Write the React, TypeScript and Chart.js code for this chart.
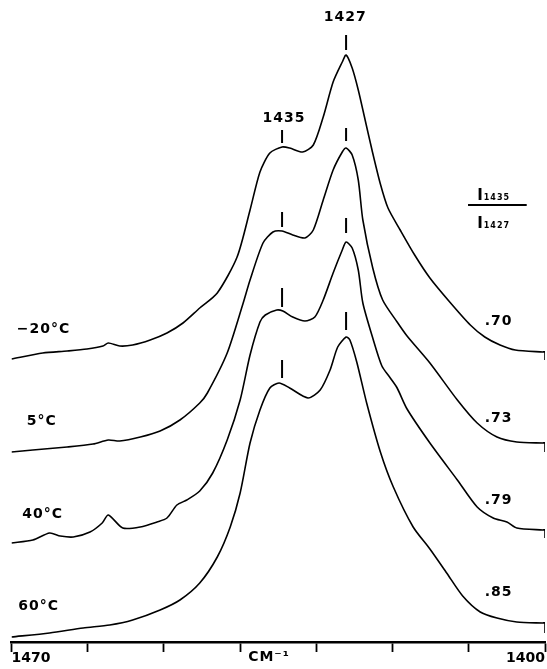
import React, { useEffect, useRef } from "react";
import { Chart, registerables } from "chart.js";

Chart.register(...registerables);

// ---- Data (wavenumber in cm-1, offset absorbance in arbitrary units) ----
const wnMinus20 = [1470.0, 1465.9, 1462.7, 1460.1, 1458.0, 1457.3, 1455.8, 1454.1, 1451.8, 1449.6, 1447.5, 1445.3, 1443.0, 1440.4, 1438.7, 1437.4, 1436.1, 1434.5, 1433.5, 1431.8, 1430.4, 1429.1, 1427.8, 1426.6, 1426.1, 1425.3, 1424.5, 1423.6, 1422.7, 1421.6, 1420.6, 1419.0, 1417.1, 1415.1, 1412.5, 1409.8, 1407.9, 1405.9, 1403.9, 1400.3, 1400.0, 1400.0];
const absMinus20 = [2.83, 2.89, 2.91, 2.93, 2.96, 2.99, 2.96, 2.97, 3.02, 3.09, 3.19, 3.34, 3.49, 3.85, 4.32, 4.70, 4.89, 4.95, 4.94, 4.90, 4.97, 5.25, 5.60, 5.80, 5.87, 5.74, 5.52, 5.22, 4.92, 4.58, 4.34, 4.12, 3.87, 3.64, 3.40, 3.17, 3.05, 2.97, 2.92, 2.90, 2.90, 2.82];

const wn5 = [1470.0, 1467.2, 1462.7, 1459.3, 1457.3, 1455.8, 1453.1, 1450.5, 1447.9, 1445.3, 1444.3, 1441.7, 1439.6, 1438.7, 1437.0, 1435.7, 1434.5, 1433.1, 1431.5, 1430.4, 1429.1, 1427.8, 1426.6, 1426.1, 1425.3, 1424.5, 1423.9, 1422.6, 1421.3, 1419.4, 1418.1, 1415.1, 1411.5, 1408.9, 1406.3, 1403.7, 1400.3, 1400.0, 1400.0];
const abs5 = [1.90, 1.92, 1.95, 1.98, 2.02, 2.01, 2.05, 2.11, 2.22, 2.39, 2.49, 2.89, 3.39, 3.62, 3.99, 4.10, 4.11, 4.07, 4.04, 4.12, 4.42, 4.72, 4.90, 4.94, 4.87, 4.62, 4.22, 3.74, 3.42, 3.20, 3.06, 2.79, 2.42, 2.19, 2.05, 2.00, 1.99, 1.99, 1.90];

const wn40 = [1470.0, 1467.2, 1465.0, 1463.6, 1461.9, 1459.7, 1458.1, 1457.3, 1455.4, 1453.1, 1450.9, 1449.6, 1448.3, 1447.0, 1445.3, 1443.6, 1441.7, 1440.0, 1438.7, 1437.4, 1436.7, 1435.2, 1434.4, 1433.1, 1431.5, 1430.2, 1429.1, 1427.8, 1426.6, 1426.1, 1425.3, 1424.5, 1423.9, 1422.6, 1421.4, 1420.3, 1419.4, 1418.1, 1415.1, 1411.5, 1408.9, 1406.8, 1405.0, 1403.7, 1400.3, 1400.0, 1400.0];
const abs40 = [0.99, 1.02, 1.09, 1.06, 1.05, 1.10, 1.19, 1.27, 1.14, 1.15, 1.20, 1.24, 1.37, 1.42, 1.51, 1.69, 2.02, 2.42, 2.87, 3.20, 3.27, 3.32, 3.31, 3.25, 3.21, 3.25, 3.42, 3.69, 3.92, 4.00, 3.94, 3.72, 3.39, 3.04, 2.76, 2.64, 2.54, 2.33, 1.99, 1.62, 1.35, 1.24, 1.20, 1.14, 1.12, 1.12, 1.04];

const wn60 = [1470.0, 1465.0, 1460.6, 1457.1, 1454.1, 1450.5, 1447.9, 1445.3, 1443.0, 1441.3, 1440.0, 1438.7, 1437.4, 1436.1, 1434.9, 1433.5, 1431.1, 1429.5, 1428.2, 1427.2, 1426.1, 1425.6, 1424.7, 1423.4, 1421.6, 1419.9, 1417.3, 1415.1, 1412.9, 1410.8, 1408.5, 1406.3, 1403.7, 1400.3, 1400.0, 1400.0];
const abs60 = [0.05, 0.09, 0.14, 0.17, 0.22, 0.32, 0.42, 0.59, 0.85, 1.15, 1.49, 1.99, 2.32, 2.54, 2.59, 2.54, 2.44, 2.52, 2.72, 2.95, 3.05, 3.02, 2.80, 2.39, 1.90, 1.55, 1.15, 0.93, 0.69, 0.46, 0.30, 0.24, 0.20, 0.19, 0.19, 0.09];

const temperatureLabels = ["\u221220\u00b0C", "5\u00b0C", "40\u00b0C", "60\u00b0C"];
const intensityRatios = [".70", ".73", ".79", ".85"];

// x-axis ticks
const xTickValues = [1470, 1460, 1450, 1440, 1430, 1420, 1410, 1400];
const xTickLabels = ["1470", "", "", "", "", "", "", "1400"];
const xUnitLabel = "CM\u207b\u00b9";

// band positions marked on each trace
const bandLabels = ["1435", "1427"];
const bandMarkerWn = [1434.5, 1426.1];
const marker1435Top = [5.12, 4.30, 3.54, 2.82];
const marker1435Bottom = [4.99, 4.15, 3.35, 2.64];
const marker1427Top = [6.07, 5.14, 4.24, 3.30];
const marker1427Bottom = [5.92, 5.01, 4.09, 3.12];

const ratioNumerator = "1435";
const ratioDenominator = "1427";

// ---- Annotation placement (data coordinates) ----
const tempLabelPos = [
  { x: 1469.3, y: 3.13 },
  { x: 1468.0, y: 2.21 },
  { x: 1468.6, y: 1.28 },
  { x: 1469.1, y: 0.36 },
];
const ratioLabelPos = [
  { x: 1407.9, y: 3.21 },
  { x: 1407.9, y: 2.24 },
  { x: 1407.9, y: 1.42 },
  { x: 1407.9, y: 0.50 },
];
const bandLabelPos = [
  { x: 1434.25, y: 5.24 },
  { x: 1426.2, y: 6.25 },
];
const fractionPos = { xLeft: 1410.1, xRight: 1402.4, xText: 1408.9, yNum: 4.48, yLine: 4.37, yDen: 4.20 };

const FONT = '"DejaVu Sans", sans-serif';

const toPoints = (xs: number[], ys: number[]) => xs.map((x, i) => ({ x, y: ys[i] }));

const annotationPlugin = {
  id: "spectraAnnotations",
  afterDatasetsDraw(chart: any) {
    const { ctx, scales } = chart;
    const xs = scales.x;
    const ys = scales.y;
    const px = (v: number) => xs.getPixelForValue(v);
    const py = (v: number) => ys.getPixelForValue(v);
    ctx.save();
    ctx.fillStyle = "#000";
    ctx.strokeStyle = "#000";

    // band markers
    ctx.lineWidth = 2;
    for (let i = 0; i < 4; i++) {
      ctx.beginPath();
      ctx.moveTo(px(bandMarkerWn[0]), py(marker1435Top[i]));
      ctx.lineTo(px(bandMarkerWn[0]), py(marker1435Bottom[i]));
      ctx.moveTo(px(bandMarkerWn[1]), py(marker1427Top[i]));
      ctx.lineTo(px(bandMarkerWn[1]), py(marker1427Bottom[i]));
      ctx.stroke();
    }

    ctx.textBaseline = "middle";
    ctx.font = `bold 14px ${FONT}`;
    (ctx as any).letterSpacing = "1px";
    ctx.textAlign = "center";
    bandLabels.forEach((t, i) => ctx.fillText(t, px(bandLabelPos[i].x), py(bandLabelPos[i].y)));

    ctx.textAlign = "left";
    temperatureLabels.forEach((t, i) => ctx.fillText(t, px(tempLabelPos[i].x), py(tempLabelPos[i].y)));
    intensityRatios.forEach((t, i) => ctx.fillText(t, px(ratioLabelPos[i].x), py(ratioLabelPos[i].y)));

    // I1435 / I1427
    const drawI = (sub: string, yv: number) => {
      const x0 = px(fractionPos.xText);
      const y0 = py(yv);
      ctx.font = `bold 15px ${FONT}`;
      (ctx as any).letterSpacing = "0px";
      ctx.textBaseline = "alphabetic";
      ctx.fillText("I", x0, y0 + 6);
      const w = ctx.measureText("I").width;
      ctx.font = `bold 8px ${FONT}`;
      (ctx as any).letterSpacing = "1px";
      ctx.fillText(sub, x0 + w + 1, y0 + 6);
    };
    drawI(ratioNumerator, fractionPos.yNum);
    drawI(ratioDenominator, fractionPos.yDen);
    ctx.lineWidth = 1.8;
    ctx.beginPath();
    ctx.moveTo(px(fractionPos.xLeft), py(fractionPos.yLine));
    ctx.lineTo(px(fractionPos.xRight), py(fractionPos.yLine));
    ctx.stroke();

    // axis unit label
    ctx.font = `bold 14px ${FONT}`;
    (ctx as any).letterSpacing = "1px";
    ctx.textAlign = "left";
    ctx.textBaseline = "middle";
    ctx.fillText(xUnitLabel, px(1440) + 8, chart.chartArea.bottom + 15);
    ctx.restore();
  },
};

export default function App() {
  const canvasRef = useRef<HTMLCanvasElement | null>(null);

  useEffect(() => {
    if (!canvasRef.current) return;
    const series = [
      { label: temperatureLabels[0], data: toPoints(wnMinus20, absMinus20) },
      { label: temperatureLabels[1], data: toPoints(wn5, abs5) },
      { label: temperatureLabels[2], data: toPoints(wn40, abs40) },
      { label: temperatureLabels[3], data: toPoints(wn60, abs60) },
    ];
    const chart = new Chart(canvasRef.current, {
      type: "line",
      data: {
        datasets: series.map((s) => ({
          ...s,
          borderColor: "#000",
          borderWidth: 1.6,
          pointRadius: 0,
          fill: false,
          tension: 0.25,
        })),
      },
      options: {
        animation: false,
        responsive: false,
        devicePixelRatio: 1,
        layout: { padding: { left: 11.5, right: 2, top: 0, bottom: 0 } },
        plugins: { legend: { display: false }, tooltip: { enabled: false }, title: { display: false } },
        scales: {
          x: {
            type: "linear",
            min: 1400,
            max: 1470,
            reverse: true,
            afterBuildTicks: (scale: any) => {
              scale.ticks = [...xTickValues].sort((a, b) => a - b).map((v) => ({ value: v }));
            },
            afterFit: (scale: any) => {
              scale.height = 27;
            },
            ticks: {
              autoSkip: false,
              maxRotation: 0,
              align: "inner",
              padding: -2,
              color: "#000",
              font: { family: FONT, size: 14, weight: "bold" },
              callback: (value: any) => {
                const i = xTickValues.indexOf(Number(value));
                return i >= 0 ? xTickLabels[i] : "";
              },
            },
            grid: {
              display: true,
              drawOnChartArea: false,
              drawTicks: true,
              tickLength: 10,
              tickColor: "#000",
              tickWidth: 1.8,
            },
            border: { display: true, color: "#000", width: 2.5 },
          },
          y: {
            type: "linear",
            display: false,
            min: 0,
            max: 6.42,
          },
        },
      },
      plugins: [annotationPlugin],
    } as any);
    return () => chart.destroy();
  }, []);

  return (
    <div style={{ position: "fixed", left: 0, top: 0, width: 547, height: 669, background: "#fff" }}>
      <canvas ref={canvasRef} width={547} height={669} style={{ display: "block" }} />
    </div>
  );
}
